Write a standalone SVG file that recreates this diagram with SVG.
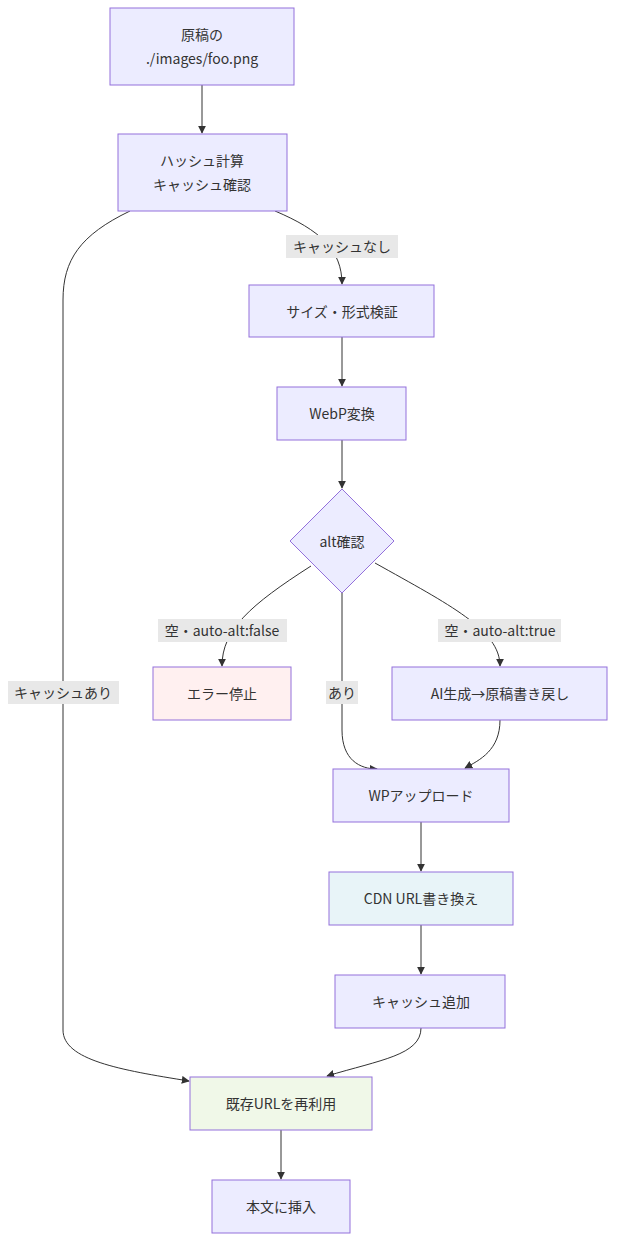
<svg xmlns="http://www.w3.org/2000/svg" width="623" height="1258" viewBox="0 0 623 1258">
<defs>
<marker id="ah" viewBox="0 0 10 10" refX="9" refY="5" markerWidth="8" markerHeight="8" orient="auto"><path d="M0,0L10,5L0,10z" fill="#333"/></marker>
<style>
.n{fill:#ececff;stroke:#9370db;stroke-width:1}
.e{fill:none;stroke:#333;stroke-width:1;marker-end:url(#ah)}
text{font-family:"Noto Sans CJK JP","Noto Sans",sans-serif;font-size:14px;fill:#333;text-anchor:middle;dominant-baseline:central}
.lb{fill:#e8e8e8;stroke:none}
</style>
</defs>
<rect width="623" height="1258" fill="#fff"/>
<g id="connectors">
<path class="e" d="M202,85V133"/>
<path class="e" d="M275,211C320,230 342,250 342,284"/>
<path class="e" d="M130,211C80,235 63,260 63,300V1030C63,1060 120,1070 189,1081"/>
<path class="e" d="M342,337V386"/>
<path class="e" d="M342,440V488"/>
<path class="e" d="M311,566C250,605 222,630 222,666"/>
<path class="e" d="M342,593V730C342,760 360,769 377,769"/>
<path class="e" d="M375,563C450,605 500,630 500,666"/>
<path class="e" d="M500,720C500,750 480,760 465,768"/>
<path class="e" d="M421,822V871"/>
<path class="e" d="M421,925V974"/>
<path class="e" d="M421,1028C421,1055 380,1060 327,1076"/>
<path class="e" d="M281,1130V1179"/>
<rect class="lb" x="286" y="235" width="112" height="23"/><text x="342" y="246">キャッシュなし</text>
<rect class="lb" x="8" y="681" width="111" height="23"/><text x="63" y="692">キャッシュあり</text>
<rect class="lb" x="158" y="619" width="129" height="23"/><text x="222" y="630">空・auto-alt:false</text>
<rect class="lb" x="326" y="681" width="32" height="23"/><text x="342" y="692">あり</text>
<rect class="lb" x="438" y="619" width="123" height="23"/><text x="500" y="630">空・auto-alt:true</text>
</g>
<g id="n1"><rect class="n" x="110" y="8" width="184" height="77"/><text x="202" y="34">原稿の</text><text x="202" y="58">./images/foo.png</text></g>
<g id="n2"><rect class="n" x="118" y="134" width="169" height="77"/><text x="202" y="160">ハッシュ計算</text><text x="202" y="184">キャッシュ確認</text></g>
<g id="n3"><rect class="n" x="249" y="285" width="185" height="52"/><text x="342" y="311">サイズ・形式検証</text></g>
<g id="n4"><rect class="n" x="277" y="387" width="129" height="53"/><text x="342" y="413">WebP変換</text></g>
<g id="n5"><polygon class="n" points="342,489 394,541 342,593 290,541"/><text x="342" y="541">alt確認</text></g>
<g id="n6"><rect x="153" y="667" width="138" height="53" fill="#fff0f0" stroke="#9370db"/><text x="222" y="693">エラー停止</text></g>
<g id="n7"><rect class="n" x="392" y="667" width="215" height="53"/><text x="500" y="693">AI生成→原稿書き戻し</text></g>
<g id="n8"><rect class="n" x="333" y="769" width="176" height="53"/><text x="421" y="795">WPアップロード</text></g>
<g id="n9"><rect x="329" y="872" width="184" height="53" fill="#e8f4f8" stroke="#9370db"/><text x="421" y="898">CDN URL書き換え</text></g>
<g id="n10"><rect class="n" x="335" y="975" width="170" height="53"/><text x="421" y="1001">キャッシュ追加</text></g>
<g id="n11"><rect x="190" y="1077" width="182" height="53" fill="#f0f8e8" stroke="#9370db"/><text x="281" y="1103">既存URLを再利用</text></g>
<g id="n12"><rect class="n" x="212" y="1180" width="138" height="53"/><text x="281" y="1206">本文に挿入</text></g>
</svg>
